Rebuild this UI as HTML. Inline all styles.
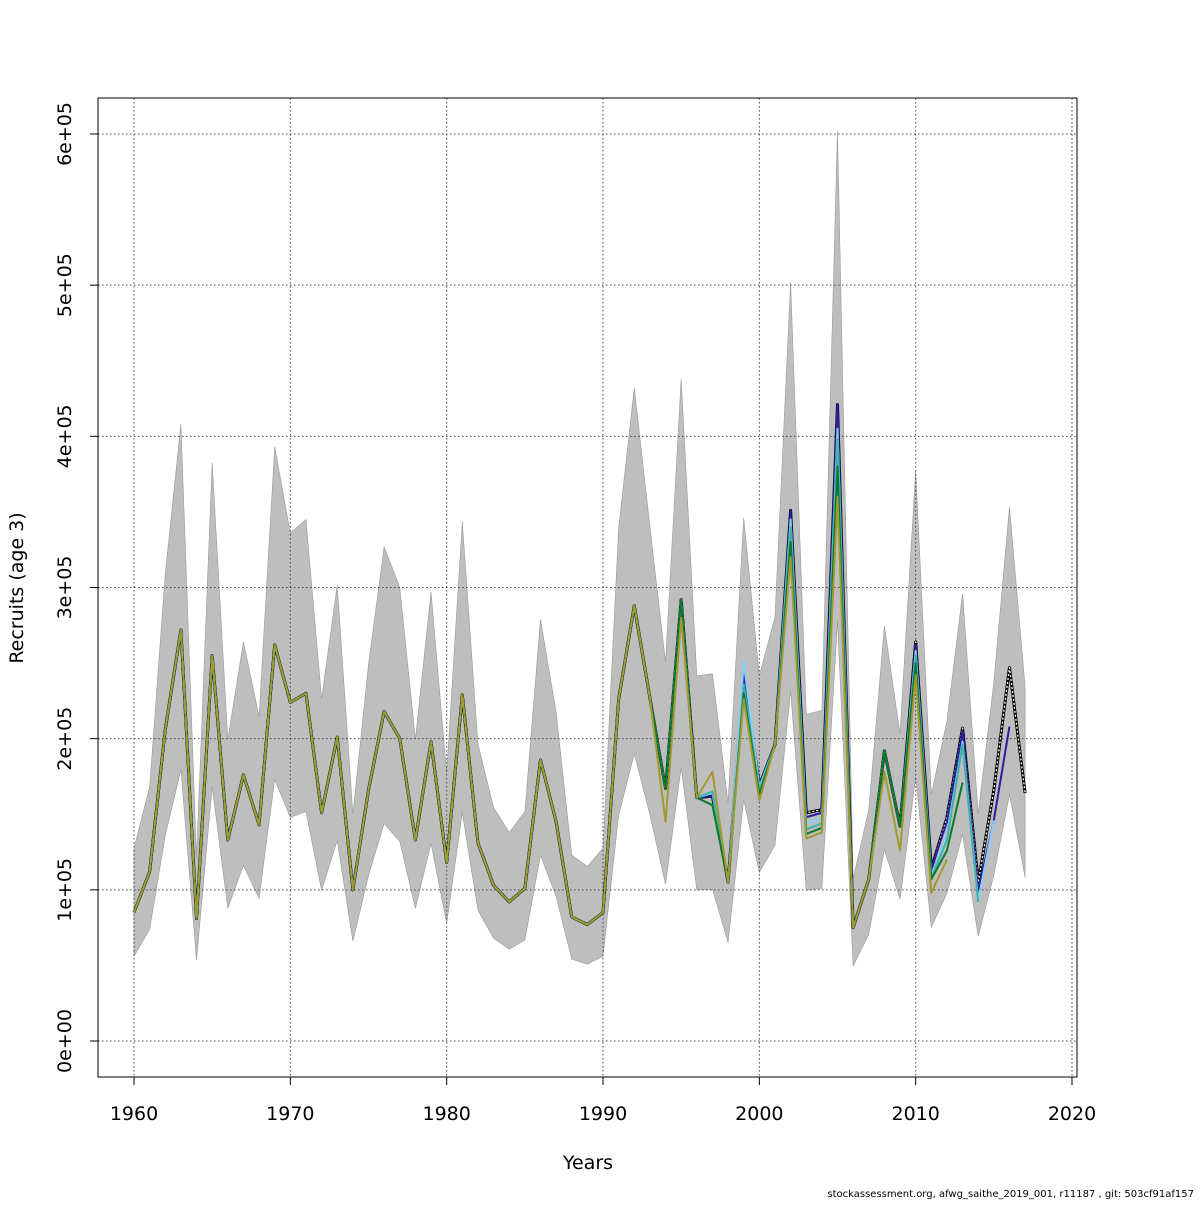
<!DOCTYPE html>
<html><head><meta charset="utf-8"><style>
body{margin:0;background:#fff}
svg text{font-family:"DejaVu Sans","Liberation Sans",sans-serif}
</style></head><body>
<svg id="s" width="1200" height="1200" xmlns="http://www.w3.org/2000/svg"></svg>
<script>
const v=[0.85,1.12,2.06,2.72,0.81,2.55,1.33,1.76,1.43,2.62,2.24,2.30,1.51,2.01,1.0,1.66,2.18,2.0,1.33,1.98,1.18,2.29,1.31,1.03,0.92,1.01,1.86,1.45,0.82,0.77,0.85,2.26,2.88,2.27,1.67,2.92,1.61,1.62,1.05,2.42,1.69,1.96,3.51,1.51,1.53,4.21,0.75,1.07,1.92,1.42,2.64,1.14,1.48,2.07,1.05,1.66,2.47,1.64];
const X=y=>134+(y-1960)*938/60, Y=val=>1041-val*151.17;
let h='';
let up=[],lo=[];
v.forEach((a,i)=>{let yr=1960+i;let k=yr>1998?1.43:1.5;let l=yr>=1994&&yr<=1998?0.62:0.66;up.push(X(yr)+','+Y(a*k));lo.unshift(X(yr)+','+Y(a*l));});
h+=`<polygon points="${up.join(' ')} ${lo.join(' ')}" fill="#bebebe" stroke="#999" stroke-width="0.6"/>`;
for(let yr=1960;yr<=2020;yr+=10)h+=`<line x1="${X(yr)}" x2="${X(yr)}" y1="98" y2="1077" stroke="#444" stroke-dasharray="1.5,2.5" stroke-width="1"/>`;
for(let k=0;k<=6;k++)h+=`<line x1="98" x2="1077" y1="${Y(k)}" y2="${Y(k)}" stroke="#444" stroke-dasharray="1.5,2.5" stroke-width="1"/>`;
function line(o,start,end,col,w,extra){let p=[];for(let yr=start;yr<=end;yr++){let a=(yr in o)?o[yr]:v[yr-1960];p.push(X(yr)+','+Y(a));}return `<polyline points="${p.join(' ')}" fill="none" stroke="${col}" stroke-width="${w}" stroke-linejoin="round" ${extra||''}/>`;}
h+=line({},1960,2017,'#000',3);
h+=line({},1960,2017,'#fff',1.3,'stroke-dasharray="2,2"');
h+=line({1997:1.62,1999:2.42,2003:1.48,2004:1.51,2010:2.62,2012:1.45,2013:2.05,2014:0.99,2015:1.46,2016:2.08},1960,2016,'#2a1fa0',2);
h+=line({1997:1.64,1999:2.51,2000:1.68,2002:3.45,2003:1.44,2004:1.47,2005:4.05,2010:2.58,2011:1.1,2012:1.36,2013:1.98,2014:0.93,2015:1.46},1960,2015,'#87cefa',2);
h+=line({1997:1.65,1999:2.36,2000:1.66,2002:3.4,2003:1.40,2004:1.44,2005:3.98,2010:2.55,2011:1.08,2012:1.33,2013:1.96,2014:0.92},1960,2014,'#3cb4a8',2);
h+=line({1994:1.67,1997:1.56,1999:2.30,2000:1.63,2002:3.3,2003:1.37,2004:1.41,2005:3.8,2010:2.5,2011:1.07,2012:1.26,2013:1.71},1960,2013,'#0a7a2a',2);
h+=line({1994:1.45,1995:2.8,1997:1.78,1999:2.26,2000:1.59,2002:3.2,2003:1.34,2004:1.38,2005:3.6,2008:1.78,2009:1.26,2010:2.42,2011:0.98,2012:1.20},1960,2012,'#a09a30',2);
h+=`<rect x="98" y="98" width="979" height="979" fill="none" stroke="#000"/>`;
h+=`<line x1="${X(1960)}" x2="${X(2020)}" y1="1077" y2="1077" stroke="#000"/>`;
for(let yr=1960;yr<=2020;yr+=10)h+=`<line x1="${X(yr)}" x2="${X(yr)}" y1="1077" y2="1085" stroke="#000"/><text x="${X(yr)}" y="1120" font-size="19" text-anchor="middle">${yr}</text>`;
const lab=['0e+00','1e+05','2e+05','3e+05','4e+05','5e+05','6e+05'];
for(let k=0;k<=6;k++)h+=`<line x1="90" x2="98" y1="${Y(k)}" y2="${Y(k)}" stroke="#000"/><text transform="translate(71,${Y(k)}) rotate(-90)" font-size="19" text-anchor="middle">${lab[k]}</text>`;
h+=`<text x="588" y="1169" font-size="19" text-anchor="middle">Years</text>`;
h+=`<text transform="translate(23,588) rotate(-90)" font-size="19" text-anchor="middle">Recruits (age 3)</text>`;
h+=`<text x="1194" y="1197" font-size="10" text-anchor="end">stockassessment.org, afwg_saithe_2019_001, r11187 , git: 503cf91af157</text>`;
document.getElementById('s').innerHTML=h;
</script>
</body></html>
